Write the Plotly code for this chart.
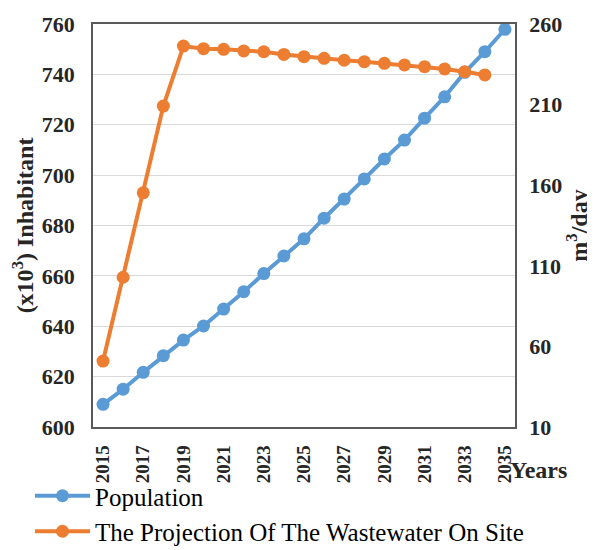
import plotly.graph_objects as go

years = list(range(2015, 2036))
population = [609, 615, 621.7, 628.3, 634.5, 640.1, 646.8, 653.7, 660.9, 667.9,
              674.7, 682.9, 690.5, 698.5, 706.4, 713.9, 722.6, 731.1, 740.8, 749, 757.9]
ww_years = list(range(2015, 2035))
wastewater = [50.9, 102.9, 155.3, 209.1, 246.3, 244.7, 244.3, 243.3, 242.8, 241.1,
              239.7, 238.7, 237.5, 236.6, 235.6, 234.6, 233.5, 232.1, 230.4, 228.4]
tick_years = list(range(2015, 2036, 2))

BLUE = "#5B9BD5"
ORANGE = "#ED7D31"
FONT = "'Times New Roman', 'Liberation Serif', serif"
TXT = "#262626"
CLEAR = "rgba(0,0,0,0)"

# the page body has an 8px default margin, so the figure is drawn 8px in
OFF = 8
W, H = 595 - OFF, 550 - OFF
L, T = 93 - OFF, 24 - OFF
R = W - (515 - OFF)
B = H - (427 - OFF)
plot_w = W - L - R
plot_h = H - T - B

def px_x(x):
    return (x - OFF - L) / plot_w

def px_y(y):
    return (H - B - (y - OFF)) / plot_h

fig = go.Figure()
fig.add_trace(go.Scatter(x=years, y=population, name="Population", mode="lines+markers",
                         line=dict(color=BLUE, width=4), marker=dict(size=13, color=BLUE)))
fig.add_trace(go.Scatter(x=ww_years, y=wastewater, name="The Projection Of The Wastewater On Site",
                         mode="lines+markers", yaxis="y2",
                         line=dict(color=ORANGE, width=4), marker=dict(size=13, color=ORANGE)))

fig.update_layout(
    width=W, height=H,
    margin=dict(l=L, r=R, t=T, b=B, autoexpand=False),
    plot_bgcolor="white", paper_bgcolor="white",
    font=dict(family=FONT, color=TXT),
    xaxis=dict(range=[2014.5, 2035.5], tickvals=tick_years, ticktext=[str(y) for y in tick_years],
               tickangle=-90, tickfont=dict(size=19, family=FONT, color=TXT, weight="bold"),
               showgrid=False, showline=True, linecolor="#595959", linewidth=1.5, mirror=True,
               ticks="outside", ticklen=9, tickcolor=CLEAR, zeroline=False, automargin=False),
    yaxis=dict(range=[600, 760], dtick=20, tickfont=dict(size=22, family=FONT, color=TXT, weight="bold"),
               ticks="outside", ticklen=12, tickcolor=CLEAR,
               showgrid=True, gridcolor="#D9D9D9", gridwidth=1, automargin=False,
               showline=True, linecolor="#595959", linewidth=1.5, zeroline=False,
               title=dict(text="(x10<sup>3</sup>) Inhabitant", font=dict(size=24, family=FONT, color=TXT, weight="bold"),
                          standoff=16)),
    yaxis2=dict(range=[10, 260], tick0=10, dtick=50, overlaying="y", side="right", automargin=False,
                tickfont=dict(size=22, family=FONT, color=TXT, weight="bold"),
                ticks="outside", ticklen=8, tickcolor=CLEAR,
                showgrid=False, showline=True, linecolor="#595959", linewidth=1.5, zeroline=False,
                title=dict(text="m<sup>3</sup>/day", font=dict(size=24, family=FONT, color=TXT, weight="bold"),
                           standoff=1)),
    legend=dict(orientation="v", x=px_x(30), y=px_y(473),
                xanchor="left", yanchor="top",
                font=dict(size=25, family=FONT, color="#000000"), tracegroupgap=0,
                itemwidth=55, bgcolor=CLEAR),
    showlegend=True,
    annotations=[dict(text="Years", x=px_x(538), y=px_y(470),
                      xref="paper", yref="paper", showarrow=False, xanchor="center", yanchor="middle",
                      font=dict(size=24, family=FONT, color=TXT, weight="bold"))],
)
fig.write_html("out.html")
